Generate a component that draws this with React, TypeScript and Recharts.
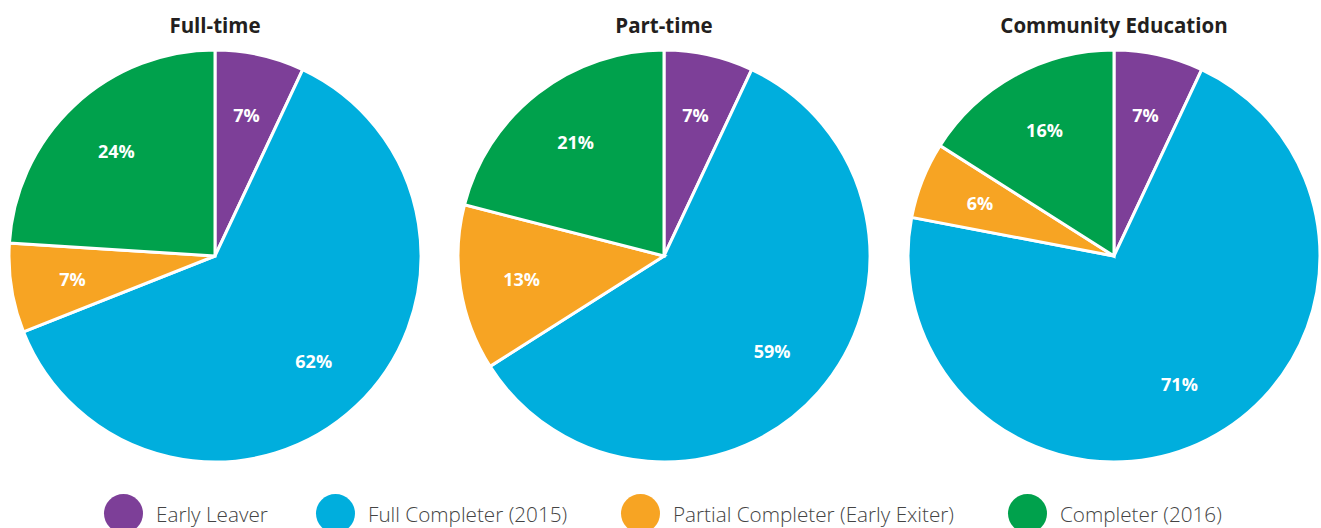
import { PieChart, Pie, Cell } from 'recharts';

const categories = ['Early Leaver', 'Full Completer (2015)', 'Partial Completer (Early Exiter)', 'Completer (2016)'];
const colors = ['#7d3f98', '#00aedd', '#f7a423', '#00a14c'];
const titles = ['Full-time', 'Part-time', 'Community Education'];
const fullTime = [7, 62, 7, 24];
const partTime = [7, 59, 13, 21];
const community = [7, 71, 6, 16];

const series = [fullTime, partTime, community];
const centersX = [215, 664, 1114];
const legendX = [104, 316, 621, 1008];
const RADIAN = Math.PI / 180;
const FONT = '"Open Sans", "Noto Sans", sans-serif';

const renderLabel = (props: any) => {
  const { cx, cy, midAngle, outerRadius, value } = props;
  const r = outerRadius * 0.7;
  const x = cx + r * Math.cos(-midAngle * RADIAN);
  const y = cy + r * Math.sin(-midAngle * RADIAN);
  return (
    <text x={x} y={y} fill="#fff" textAnchor="middle" dominantBaseline="central"
      fontFamily={FONT} fontWeight={700} fontSize={18}>
      {value}%
    </text>
  );
};

export default function App() {
  return (
    <div style={{ position: 'absolute', left: 0, top: 0, width: 1321, height: 528, background: '#fff', overflow: 'hidden', fontFamily: FONT }}>
      {titles.map((t, i) => (
        <div key={t} style={{ position: 'absolute', left: centersX[i] - 200, width: 400, top: 11, textAlign: 'center', fontWeight: 700, fontSize: 20.5, color: '#231f20' }}>
          {t}
        </div>
      ))}
      <div style={{ position: 'absolute', left: 0, top: 0 }}>
        <PieChart width={1321} height={528} margin={{ top: 0, right: 0, bottom: 0, left: 0 }}>
          {series.map((vals, i) => (
            <Pie key={titles[i]}
              data={vals.map((v, j) => ({ name: categories[j], value: v }))}
              dataKey="value" cx={centersX[i]} cy={256} outerRadius={206}
              startAngle={90} endAngle={-270} stroke="#fff" strokeWidth={3}
              label={renderLabel} labelLine={false} isAnimationActive={false}>
              {vals.map((_, j) => <Cell key={j} fill={colors[j]} />)}
            </Pie>
          ))}
        </PieChart>
      </div>
      {categories.map((c, i) => (
        <div key={c} style={{ position: 'absolute', left: legendX[i], top: 494, display: 'flex', alignItems: 'center' }}>
          <div style={{ width: 39, height: 39, borderRadius: 20, background: colors[i] }} />
          <span style={{ marginLeft: 13, fontSize: 20.7, color: '#444', fontWeight: 300 }}>{c}</span>
        </div>
      ))}
    </div>
  );
}
